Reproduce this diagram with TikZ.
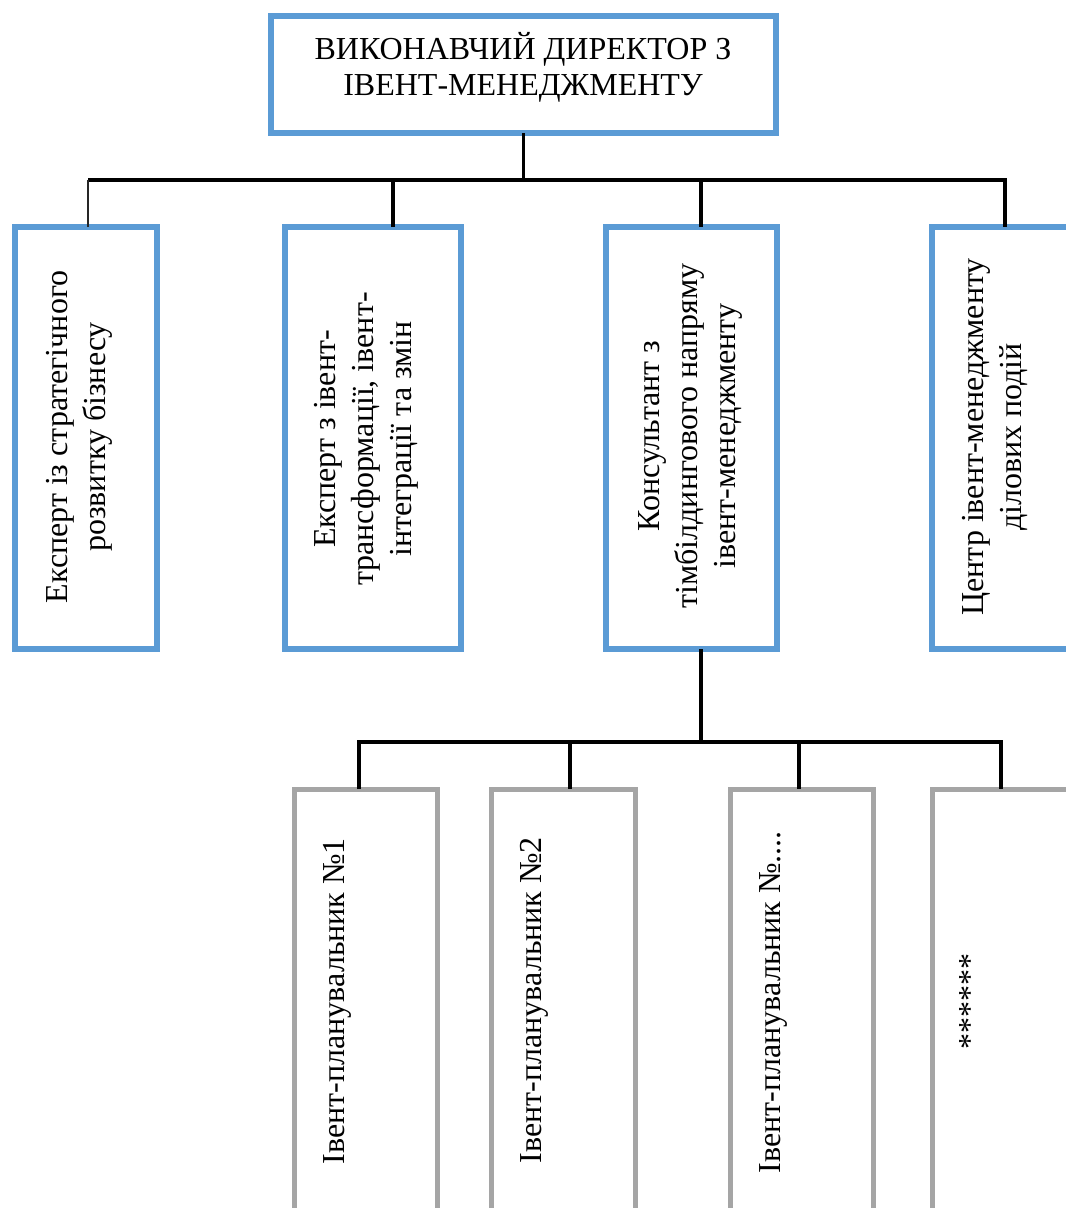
\documentclass[tikz,border=0pt]{standalone}
\usepackage{fontspec}
\setmainfont{Liberation Serif}
\usetikzlibrary{calc}
\definecolor{boxblue}{HTML}{5B9BD5}
\definecolor{boxgray}{HTML}{A5A5A5}
\begin{document}
\begin{tikzpicture}[x=1pt,y=-1pt,
  bluebox/.style={rectangle, draw=boxblue, line width=6pt, fill=white, inner sep=0pt, outer sep=0pt},
  graybox/.style={rectangle, draw=boxgray, line width=5pt, fill=white, inner sep=0pt, outer sep=0pt},
  link/.style={draw=black, line width=3.5pt},
  thinlink/.style={draw=black!85, line width=1.5pt},
  vtext/.style={rotate=90, align=center, inner sep=0pt, font=\fontsize{32}{38}\selectfont},
  htext/.style={align=center, inner sep=0pt, font=\fontsize{32}{36}\selectfont}]
\useasboundingbox (0,0) rectangle (1066,1208);
\clip (0,0) rectangle (1066,1208);

% boxes
\node[bluebox, minimum width=505pt, minimum height=117pt] (top) at (523.5,74.5) {};
\node[bluebox, minimum width=142pt, minimum height=422pt] (b1) at (86,438) {};
\node[bluebox, minimum width=176pt, minimum height=422pt] (b2) at (373,438) {};
\node[bluebox, minimum width=171pt, minimum height=422pt] (b3) at (691.5,438) {};
\node[bluebox, minimum width=146pt, minimum height=422pt] (b4) at (1005,438) {};
\node[graybox, minimum width=143pt, minimum height=426pt] (gA) at (365.5,1002) {};
\node[graybox, minimum width=144pt, minimum height=426pt] (gB) at (563,1002) {};
\node[graybox, minimum width=143pt, minimum height=426pt] (gC) at (801.5,1002) {};
\node[graybox, minimum width=138pt, minimum height=426pt] (gD) at (1001,1002) {};

% labels
\node[htext] (ttop) at (523,67) {ВИКОНАВЧИЙ ДИРЕКТОР З\\ІВЕНТ-МЕНЕДЖМЕНТУ};
\node[vtext] (t1) at (79,437) {Експерт із стратегічного\\розвитку бізнесу};
\node[vtext] (t2) at (366,439) {Експерт з івент-\\трансформації, івент-\\інтеграції та змін};
\node[vtext] (t3) at (690,436) {Консультант з\\тімбілдингового напряму\\івент-менеджменту};
\node[vtext] (t4) at (995,437) {Центр івент-менеджменту\\ділових подій};
\node[vtext] (tA) at (337,1001) {Івент-планувальник №1};
\node[vtext] (tB) at (534,1000) {Івент-планувальник №2};
\node[vtext] (tC) at (773,1002) {Івент-планувальник №....};
\node[vtext] (tD) at (970,1001) {******};

% first level bus
\coordinate (bus1) at (523.5,180);
\coordinate (d1) at (88,180);
\coordinate (d2) at (393,180);
\coordinate (d3) at (701,180);
\coordinate (d4) at (1005,180);
\draw[link] (top.south) -- (bus1);
\draw[link] (d1) -- (d4) -- (d4 |- b4.north);
\draw[thinlink] (d1) -- (d1 |- b1.north);
\draw[link] (d2) -- (d2 |- b2.north);
\draw[link] (d3) -- (d3 |- b3.north);

% second level bus
\coordinate (bus2) at (701,742);
\coordinate (e1) at (359,742);
\coordinate (e2) at (570,742);
\coordinate (e3) at (799,742);
\coordinate (e4) at (1001,742);
\draw[link] (bus2 |- b3.south) -- (bus2);
\draw[link] (e1 |- gA.north) -- (e1) -- (e4) -- (e4 |- gD.north);
\draw[link] (e2) -- (e2 |- gB.north);
\draw[link] (e3) -- (e3 |- gC.north);
\end{tikzpicture}
\end{document}
